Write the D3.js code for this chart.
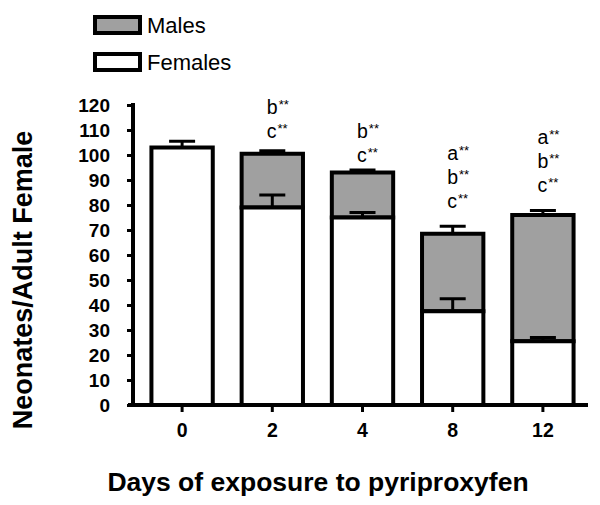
<!DOCTYPE html>
<html><head><meta charset="utf-8">
<script src="https://cdn.jsdelivr.net/npm/d3@7"></script>
<style>body{margin:0;background:#fff}svg{display:block}</style>
</head><body>
<svg id="c" width="600" height="505"></svg>
<script>
const days = ["0","2","4","8","12"];
const females = [103, 79, 75, 37.5, 25.5];
const males = [0, 21.5, 18, 31, 50.5];
const femaleErr = [2.5, 5, 2, 5, 1.5];
const totalErr = [0, 1.2, 1, 3, 1.8];
const annotations = [[], ["b**","c**"], ["b**","c**"], ["a**","b**","c**"], ["a**","b**","c**"]];
const annotationLevel = [0, 106.8, 97.2, 78.8, 85.2];
const yTicks = d3.range(0, 121, 10);
const seriesNames = ["Males", "Females"];

const svg = d3.select("#c");
const font = "Liberation Sans, Arial, sans-serif";
const x = d3.scaleBand().domain(days).range([137, 588]).paddingInner(0.32).paddingOuter(0.16);
const y = d3.scaleLinear().domain([0, 120]).range([405, 105]);
const grey = "#a0a0a0";
const sw = 4;

const g = svg.append("g");
days.forEach((d, i) => {
  const x0 = x(d), w = x.bandwidth();
  const total = females[i] + males[i];
  if (males[i] > 0) {
    g.append("rect").attr("x", x0).attr("y", y(total)).attr("width", w)
      .attr("height", y(females[i]) - y(total)).attr("fill", grey).attr("stroke", "#000").attr("stroke-width", sw);
  }
  g.append("rect").attr("x", x0).attr("y", y(females[i])).attr("width", w)
    .attr("height", y(0) - y(females[i])).attr("fill", "#fff").attr("stroke", "#000").attr("stroke-width", sw);
  const cx = x0 + w / 2;
  const eb = (v, e) => {
    if (!e) return;
    g.append("line").attr("x1", cx).attr("x2", cx).attr("y1", y(v)).attr("y2", y(v + e)).attr("stroke", "#000").attr("stroke-width", 3);
    g.append("line").attr("x1", cx - 13).attr("x2", cx + 13).attr("y1", y(v + e)).attr("y2", y(v + e)).attr("stroke", "#000").attr("stroke-width", 3);
  };
  eb(females[i], femaleErr[i]);
  if (males[i] > 0) eb(total, totalErr[i]);
  const ann = annotations[i];
  ann.forEach((a, k) => {
    const ty = y(annotationLevel[i]) - (ann.length - 1 - k) * 24;
    const t = g.append("text").attr("x", cx - 5.5).attr("y", ty)
      .attr("font-family", font).attr("font-size", 19.5).attr("fill", "#000");
    t.append("tspan").text(a[0]);
    t.append("tspan").text("**").attr("font-size", 13).attr("dy", -5).attr("dx", 1);
  });
});

const ya = svg.append("g").attr("transform", "translate(133,0)")
  .call(d3.axisLeft(y).tickValues(yTicks).tickSize(6).tickPadding(17));
ya.select(".domain").attr("stroke-width", 4).attr("d", `M0,${y(120)-2}V${y(0)}`);
ya.selectAll(".tick line").attr("stroke-width", 3);
ya.selectAll(".tick text").attr("font-family", font).attr("font-size", 19).attr("font-weight", "bold").attr("fill", "#000");

const xa = svg.append("g").attr("transform", "translate(0,405)")
  .call(d3.axisBottom(x).tickSize(7).tickPadding(11));
xa.select(".domain").attr("stroke-width", 4).attr("d", "M128,0H588");
xa.selectAll(".tick line").attr("stroke-width", 3);
xa.selectAll(".tick text").attr("font-family", font).attr("font-size", 19.5).attr("font-weight", "bold").attr("fill", "#000");

svg.append("text").attr("transform", "translate(32,280) rotate(-90)").attr("text-anchor", "middle")
  .attr("font-family", font).attr("font-size", 27).attr("font-weight", "bold").text("Neonates/Adult Female");
svg.append("text").attr("x", 318).attr("y", 491).attr("text-anchor", "middle")
  .attr("font-family", font).attr("font-size", 26.5).attr("font-weight", "bold").text("Days of exposure to pyriproxyfen");

const legFill = [grey, "#fff"];
seriesNames.forEach((s, i) => {
  const ly = 17 + i * 37;
  svg.append("rect").attr("x", 95).attr("y", ly).attr("width", 45).attr("height", 16)
    .attr("fill", legFill[i]).attr("stroke", "#000").attr("stroke-width", 4);
  svg.append("text").attr("x", 147).attr("y", ly + 16).attr("font-family", font).attr("font-size", 22).text(s);
});
</script>
</body></html>
